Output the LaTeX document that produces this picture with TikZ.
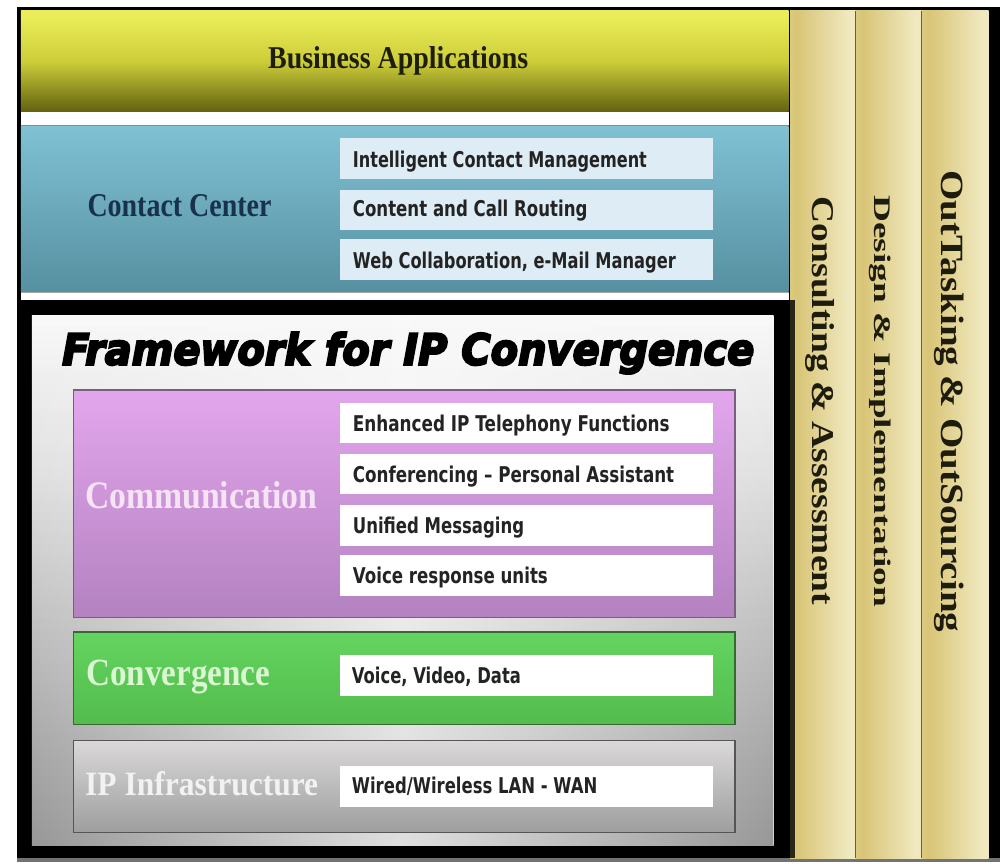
\documentclass[tikz,border=0pt]{standalone}
\usepackage{fontspec}
\usepackage{graphicx}
\usetikzlibrary{fadings}
\setmainfont{Liberation Serif}
\newfontfamily\subfont{DejaVu Sans}
\newfontface\ttlfont[FakeBold=5]{DejaVu Sans Bold Oblique}
\newcommand{\fitbox}[3]{\resizebox{#1pt}{#2pt}{#3}}
\definecolor{bizfg}{RGB}{30,30,15}
\definecolor{ccfg}{RGB}{25,50,75}
\definecolor{commfg}{RGB}{246,228,246}
\definecolor{convfg}{RGB}{218,246,210}
\definecolor{ipfg}{RGB}{242,242,242}
\definecolor{subfg}{RGB}{35,35,35}
\definecolor{vfg}{RGB}{30,28,15}
\definecolor{ccsub}{RGB}{222,236,245}
\definecolor{ccTop}{RGB}{128,193,212}
\definecolor{ccBot}{RGB}{86,144,160}
\definecolor{cmTop}{RGB}{226,166,236}
\definecolor{cmBot}{RGB}{180,130,192}
\definecolor{cmEdge}{RGB}{120,95,125}
\definecolor{cvTop}{RGB}{100,212,95}
\definecolor{cvBot}{RGB}{82,188,76}
\definecolor{cvEdge}{RGB}{55,105,55}
\definecolor{ipTop}{RGB}{218,216,216}
\definecolor{ipBot}{RGB}{158,158,158}
\definecolor{ipEdge}{RGB}{85,85,85}
\definecolor{yA}{RGB}{0,0,0}
\definecolor{yA2}{RGB}{25,25,2}
\definecolor{yB}{RGB}{110,110,20}
\definecolor{yC}{RGB}{205,205,58}
\definecolor{yD}{RGB}{234,236,88}
\definecolor{yE}{RGB}{238,240,100}
\definecolor{colA}{RGB}{236,226,178}
\definecolor{colB}{RGB}{216,197,118}
\definecolor{colC}{RGB}{240,233,192}
\definecolor{colD}{RGB}{236,228,185}
\definecolor{colLine}{RGB}{105,95,60}
\definecolor{fwA}{RGB}{165,165,165}
\definecolor{fwB}{RGB}{210,210,210}
\definecolor{fwC}{RGB}{245,245,245}
\pgfdeclareverticalshading{bizsh}{100bp}{color(0bp)=(yA); color(8bp)=(yA2); color(28bp)=(yB); color(50bp)=(yC); color(72bp)=(yD); color(100bp)=(yE)}
\pgfdeclarehorizontalshading{colsh}{100bp}{color(0bp)=(colA); color(30bp)=(colB); color(70bp)=(colC); color(100bp)=(colD)}
\pgfdeclareverticalshading{fwsh}{100bp}{color(0bp)=(fwA); color(25bp)=(fwB); color(60bp)=(fwC); color(100bp)=(white)}
\begin{document}
\begin{tikzpicture}[x=1pt,y=-1pt,
  lbl/.style={inner sep=0pt, anchor=base west},
  band/.style={inner sep=0pt, anchor=north west, draw=none},
  subbox/.style={inner sep=0pt, anchor=north west, minimum width=373pt, minimum height=40.5pt, draw=none},
  catbox/.style={inner sep=0pt, anchor=north west, minimum width=661.6pt, line width=1.3pt},
  colbox/.style={inner sep=0pt, anchor=north west, minimum height=847.3pt, shading=colsh, draw=none},
  serif/.style={font=\bfseries},
  sans/.style={font=\subfont\bfseries, text=subfg}
]
\useasboundingbox (0,0) rectangle (1004,864);
\fill[white] (0,0) rectangle (1004,864);
\fill[black!55] (16.7,856) rectangle (1000,861.5);
\fill[black] (16.7,6.7) rectangle (1000,858);

% Business applications band
\node[band, minimum width=767.6pt, minimum height=101pt, shading=bizsh] (biz) at (20.7,10.7) {};
\node[lbl, serif, text=bizfg] (bizt) at (268,68.3) {\fitbox{260}{22}{Business Applications}};

% white strips
\node[band, fill=white, minimum width=767.6pt, minimum height=14.3pt] (ws1) at (20.7,111.7) {};
\node[band, fill=white, minimum width=767.6pt, minimum height=8.3pt] (ws2) at (20.7,291.7) {};

% Contact center band
\node[band, top color=ccTop, bottom color=ccBot, minimum width=767.6pt, minimum height=165.7pt] (cc) at (20.7,126) {};
\draw[black!45, line width=1pt] (cc.north west) -- (cc.north east);
\draw[black!35, line width=1pt] (cc.south west) -- (cc.south east);
\node[lbl, serif, text=ccfg] (cct) at (87.3,216.7) {\fitbox{184}{22}{Contact Center}};
\node[subbox, fill=ccsub] (cc1) at (339.3,138.3) {};
\node[subbox, fill=ccsub] (cc2) at (339.3,189.3) {};
\node[subbox, fill=ccsub] (cc3) at (339.3,239) {};
\node[lbl, sans] (cc1t) at (352.7,167.7) {\fitbox{294}{16.5}{Intelligent Contact Management}};
\node[lbl, sans] (cc2t) at (352.7,216.7) {\fitbox{234.6}{16.5}{Content and Call Routing}};
\node[lbl, sans] (cc3t) at (352.7,268.3) {\fitbox{323}{16.5}{Web Collaboration, e-Mail Manager}};

% Framework box
\node[band, shading=fwsh, minimum width=741.6pt, minimum height=530pt] (fw) at (31.7,315) {};
\shade[left color=black, right color=black, middle color=white, opacity=0.28, path fading=north] (fw.north west) rectangle (fw.south east);
\node[lbl, font=\ttlfont, text=black] (fwt) at (62,364.7) {\fitbox{692}{32.5}{Framework for IP Convergence}};

% Communication
\node[catbox, top color=cmTop, bottom color=cmBot, draw=cmEdge, minimum height=227.4pt] (comm) at (72.7,389.3) {};
\node[lbl, serif, text=commfg] (commt) at (85,508.3) {\fitbox{232}{27}{Communication}};
\node[subbox, fill=white] (cm1) at (339.3,402.7) {};
\node[subbox, fill=white] (cm2) at (339.3,453.3) {};
\node[subbox, fill=white] (cm3) at (339.3,505) {};
\node[subbox, fill=white] (cm4) at (339.3,555) {};
\node[lbl, sans] (cm1t) at (352.7,431.7) {\fitbox{316.6}{16.5}{Enhanced IP Telephony Functions}};
\node[lbl, sans] (cm2t) at (352.7,482.7) {\fitbox{321.3}{16.5}{Conferencing – Personal Assistant}};
\node[lbl, sans] (cm3t) at (352.7,533.3) {\fitbox{171.3}{16.5}{Unified Messaging}};
\node[lbl, sans] (cm4t) at (352.7,583.3) {\fitbox{195}{16.5}{Voice response units}};

% Convergence
\node[catbox, top color=cvTop, bottom color=cvBot, draw=cvEdge, minimum height=92.7pt] (conv) at (72.7,631.3) {};
\node[lbl, serif, text=convfg] (convt) at (86,685) {\fitbox{184}{25.5}{Convergence}};
\node[subbox, fill=white] (cv1) at (339.3,655) {};
\node[lbl, sans] (cv1t) at (351.7,683.3) {\fitbox{169}{16.5}{Voice, Video, Data}};

% IP Infrastructure
\node[catbox, top color=ipTop, bottom color=ipBot, draw=ipEdge, minimum height=91.7pt] (ip) at (72.7,740) {};
\node[lbl, serif, text=ipfg] (ipt) at (85,795) {\fitbox{233}{24}{IP Infrastructure}};
\node[subbox, fill=white] (ip1) at (339.3,766) {};
\node[lbl, sans] (ip1t) at (351.7,793.3) {\fitbox{245.6}{16.5}{Wired/Wireless LAN - WAN}};

% Columns
\node[colbox, minimum width=65.7pt] (c1) at (790,10.7) {};
\node[colbox, minimum width=66pt] (c2) at (855.7,10.7) {};
\node[colbox, minimum width=66.6pt] (c3) at (921.7,10.7) {};
\draw[colLine, line width=1.4pt] (c2.north west) -- (c2.south west);
\draw[colLine, line width=1.4pt] (c3.north west) -- (c3.south west);
\fill[black!60!colLine] (790,300) rectangle (795,858);
\node[lbl, serif, rotate=-90, text=vfg] (c1t) at (812,196.7) {\fitbox{408}{22}{Consulting \& Assessment}};
\node[lbl, serif, rotate=-90, text=vfg] (c2t) at (874.5,195) {\fitbox{412}{16.5}{Design \& Implementation}};
\node[lbl, serif, rotate=-90, text=vfg] (c3t) at (941.5,170) {\fitbox{462}{22.5}{OutTasking \& OutSourcing}};
\end{tikzpicture}
\end{document}
